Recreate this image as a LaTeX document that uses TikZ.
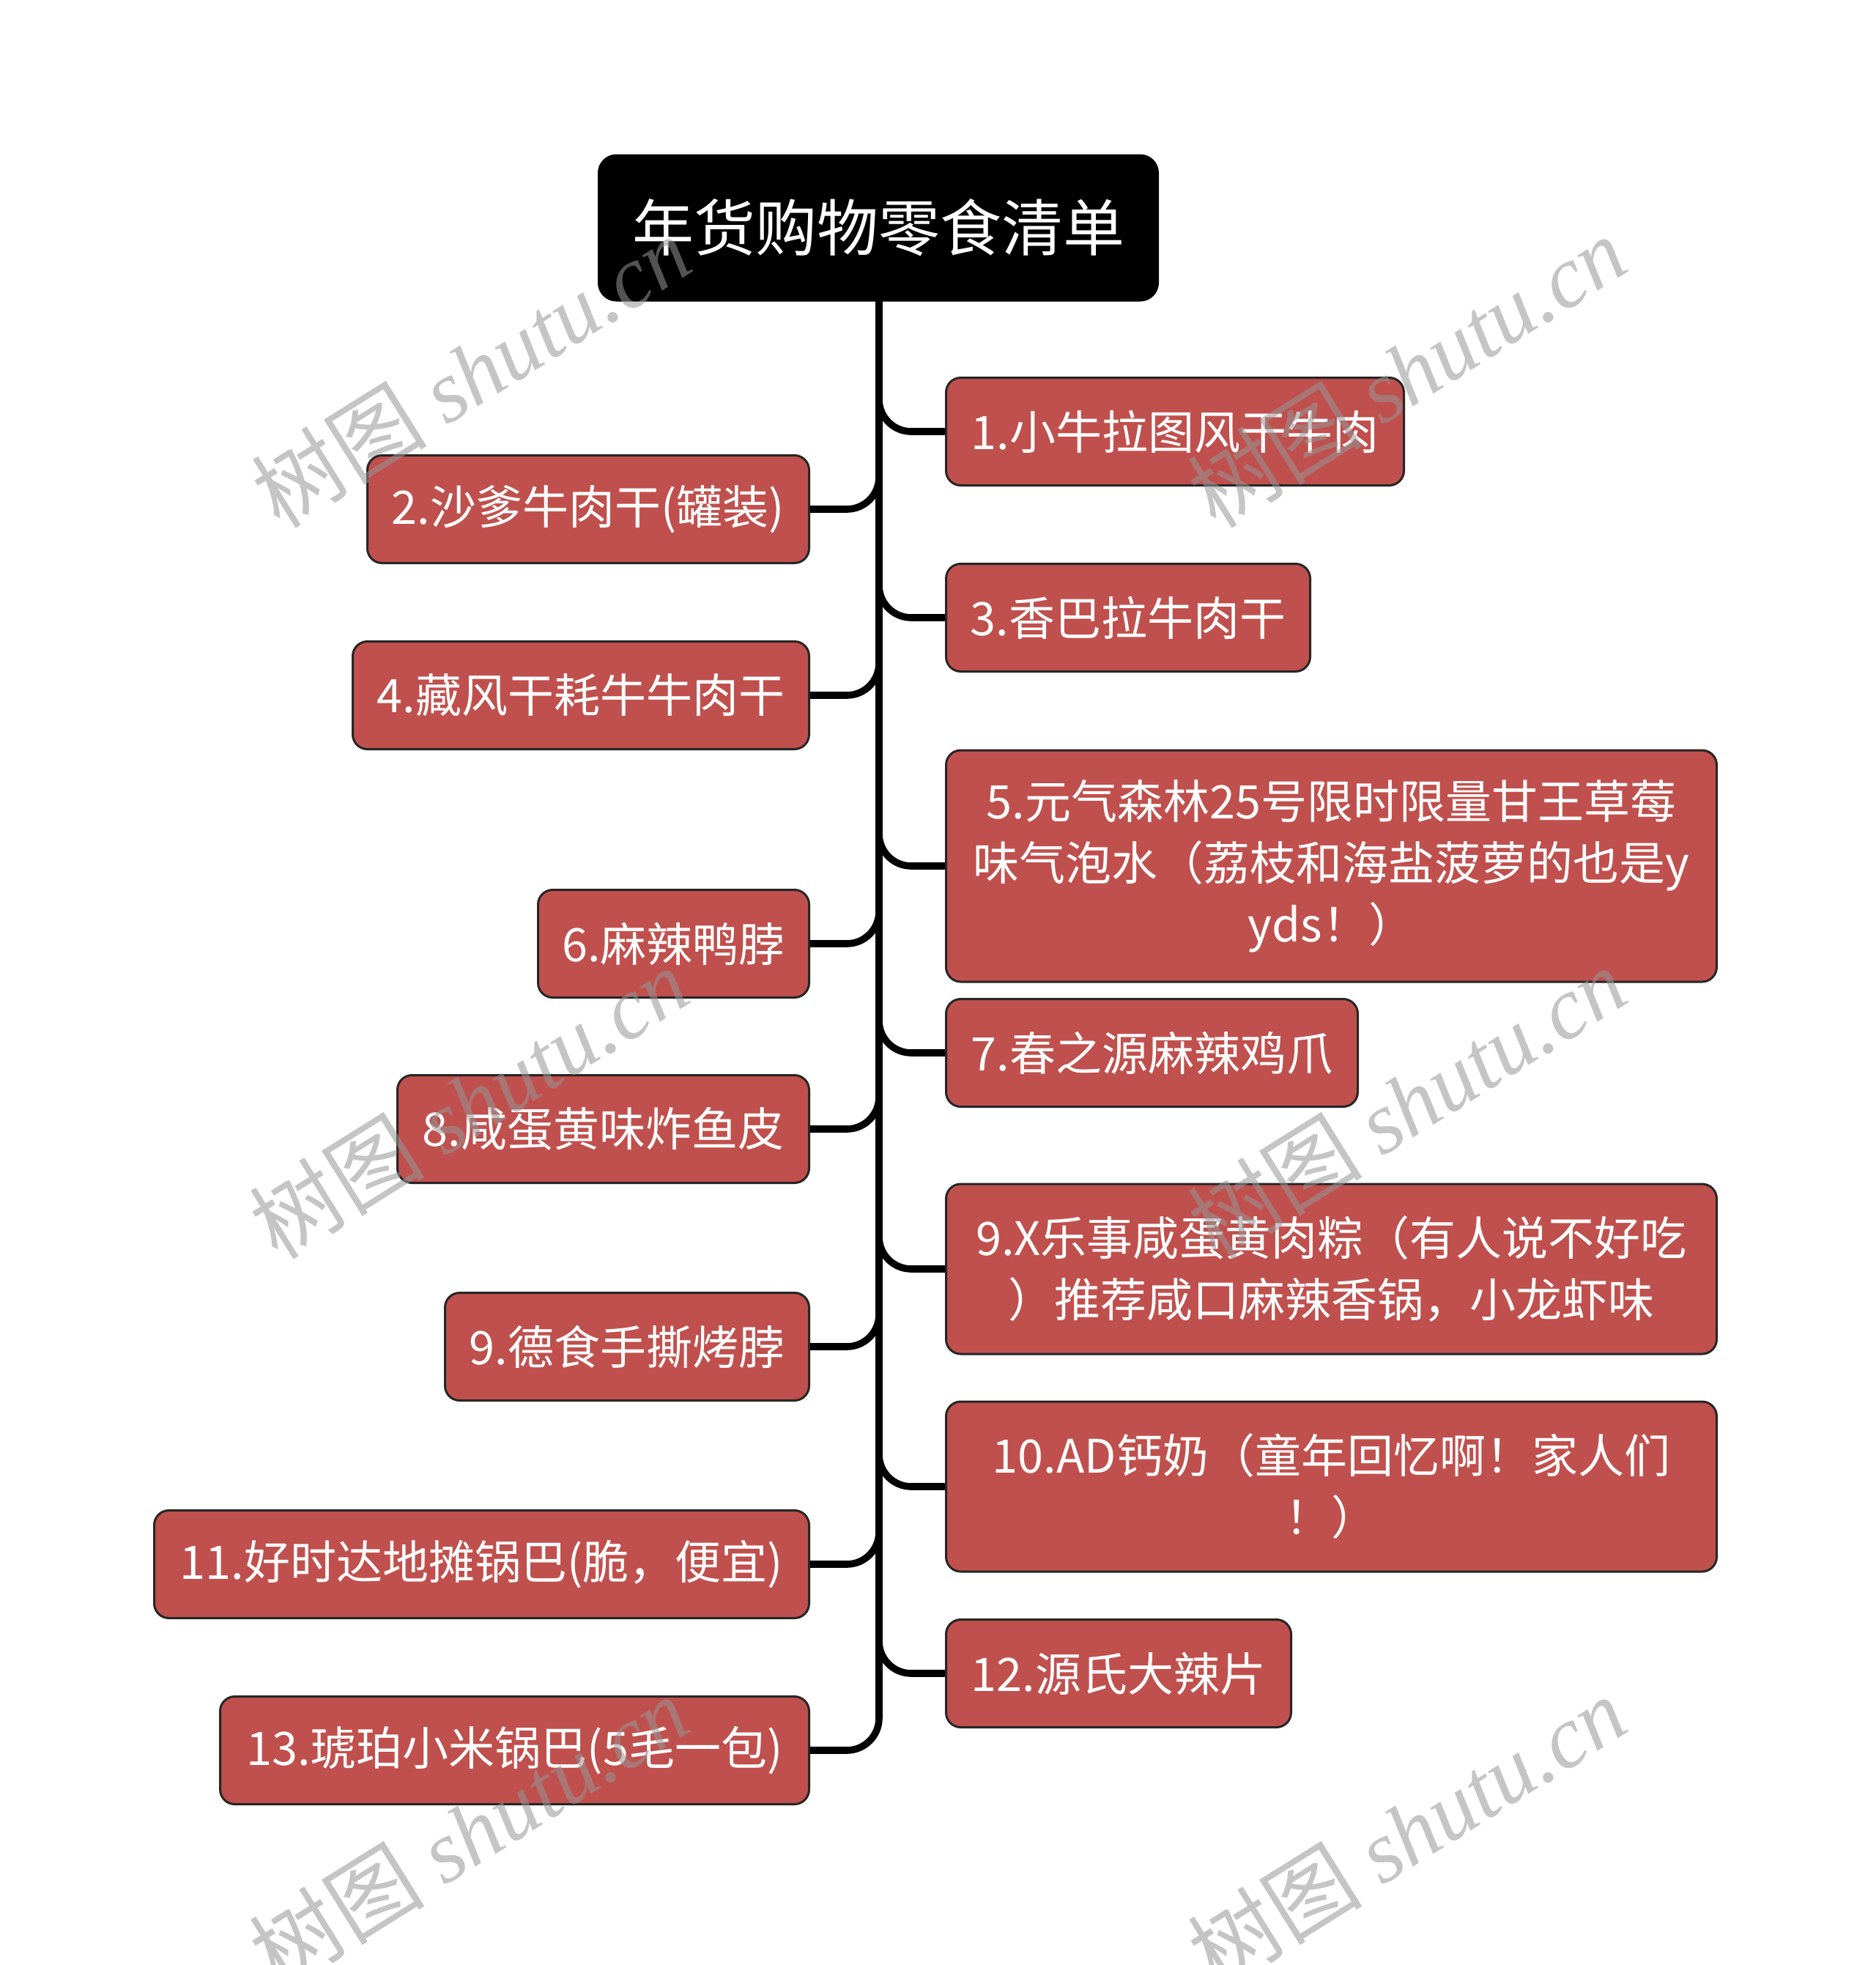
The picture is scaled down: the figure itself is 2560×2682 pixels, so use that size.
\documentclass[tikz,border=0pt]{standalone}
\usepackage{fontspec}
\setmainfont{Noto Sans CJK SC}
\newfontfamily\wmlatin{Liberation Serif}
\newfontfamily\wmcjk{Noto Sans CJK SC}
\definecolor{leafred}{RGB}{192,80,77}
\definecolor{wmgray}{RGB}{150,150,150}
\tikzset{
  leaf/.style={draw=black!85, line width=1.5pt, fill=leafred, rounded corners=10pt,
    text=white, font=\fontsize{31.5pt}{42pt}\selectfont, align=center,
    inner sep=0pt, minimum height=73.5pt},
  rootbox/.style={draw=black, line width=1.5pt, fill=black, rounded corners=12pt,
    text=white, font=\fontsize{42pt}{50pt}\selectfont, align=center,
    inner sep=0pt, minimum width=381.5pt, minimum height=99pt},
  conn/.style={draw=black, line width=4.8pt, rounded corners=22pt},
  wm/.style={rotate=32, text=wmgray, text opacity=0.55, inner sep=0pt,
    font=\fontsize{60pt}{60pt}\selectfont}
}
\begin{document}
\begin{tikzpicture}[x=0.5pt,y=-0.5pt]
\useasboundingbox[fill=white] (0,0) rectangle (2560,2682);

\node[rootbox] (root) at (1199,311) {年货购物零食清单};

% right side
\node[leaf, anchor=west, minimum width=312.5pt] (n1) at (1290,589) {1.小牛拉图风干牛肉};
\node[leaf, anchor=west, minimum width=248.5pt] (n3) at (1290,843) {3.香巴拉牛肉干};
\node[leaf, anchor=west, minimum width=526pt, minimum height=158pt] (n5) at (1290,1182)
  {5.元气森林25号限时限量甘王草莓\\味气泡水（荔枝和海盐菠萝的也是y\\yds！）};
\node[leaf, anchor=west, minimum width=281pt] (n7) at (1290,1437) {7.春之源麻辣鸡爪};
\node[leaf, anchor=west, minimum width=526pt, minimum height=116pt] (n9r) at (1290,1732)
  {9.X乐事咸蛋黄肉粽（有人说不好吃\\）推荐咸口麻辣香锅，小龙虾味};
\node[leaf, anchor=west, minimum width=526pt, minimum height=116pt] (n10) at (1290,2029)
  {10.AD钙奶（童年回忆啊！家人们\\！）};
\node[leaf, anchor=west, minimum width=235.5pt] (n12) at (1290,2284) {12.源氏大辣片};

% left side
\node[leaf, anchor=east, minimum width=301.5pt] (n2) at (1106,695) {2.沙爹牛肉干(罐装)};
\node[leaf, anchor=east, minimum width=311.5pt] (n4) at (1106,949) {4.藏风干耗牛牛肉干};
\node[leaf, anchor=east, minimum width=185pt] (n6) at (1106,1288) {6.麻辣鸭脖};
\node[leaf, anchor=east, minimum width=281pt] (n8) at (1106,1541) {8.咸蛋黄味炸鱼皮};
\node[leaf, anchor=east, minimum width=248.5pt] (n9l) at (1106,1838) {9.德食手撕烤脖};
\node[leaf, anchor=east, minimum width=447pt] (n11) at (1106,2135) {11.好时达地摊锅巴(脆，便宜)};
\node[leaf, anchor=east, minimum width=402pt] (n13) at (1106,2389) {13.琥珀小米锅巴(5毛一包)};

% connectors
\coordinate (sp) at (1200,410);
\foreach \n in {n1,n3,n5,n7,n9r,n10,n12} {
  \draw[conn] (sp) |- (\n.west);
}
\foreach \n in {n2,n4,n6,n8,n9l,n11,n13} {
  \draw[conn] (sp) |- (\n.east);
}

% watermarks
\foreach \p/\q in {643/507, 1920/507, 640/1505, 1920/1505, 640/2500, 1920/2500} {
  \node[wm] (wm) at (\p,\q) {{\wmcjk 树图} {\wmlatin\itshape shutu.cn}};
}
\end{tikzpicture}
\end{document}
